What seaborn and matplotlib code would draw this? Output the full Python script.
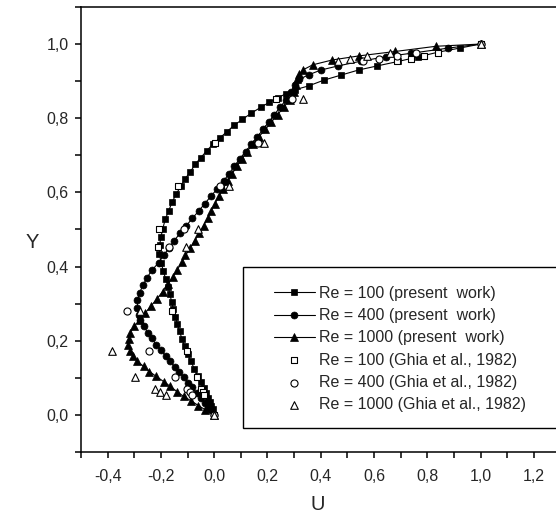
import matplotlib
matplotlib.use("Agg")
import matplotlib.pyplot as plt
import seaborn as sns
from matplotlib.ticker import MultipleLocator, FuncFormatter
from matplotlib.patches import Rectangle

# present work, Re = 100 (u, y along the vertical centre line)
re100_y = [0.0, 0.015, 0.024, 0.034, 0.045, 0.058, 0.072, 0.088, 0.105, 0.125, 0.145, 0.165, 0.185,
           0.205, 0.225, 0.245, 0.265, 0.285, 0.305, 0.325, 0.345, 0.366, 0.388, 0.41, 0.435, 0.457,
           0.48, 0.502, 0.527, 0.55, 0.574, 0.595, 0.617, 0.637, 0.655, 0.676, 0.694, 0.712, 0.730,
           0.746, 0.764, 0.781, 0.797, 0.814, 0.829, 0.843, 0.855, 0.866, 0.877, 0.887, 0.903, 0.916,
           0.930, 0.941, 0.953, 0.965, 0.978, 0.989, 1.0]
re100_u = [0.0, -0.006, -0.011, -0.017, -0.024, -0.031, -0.040, -0.050, -0.062, -0.075, -0.088, -0.100,
           -0.111, -0.121, -0.130, -0.138, -0.146, -0.153, -0.160, -0.166, -0.173, -0.182, -0.191,
           -0.199, -0.206, -0.205, -0.200, -0.193, -0.184, -0.171, -0.158, -0.143, -0.125, -0.109,
           -0.090, -0.071, -0.050, -0.028, -0.005, 0.020, 0.048, 0.075, 0.106, 0.140, 0.174, 0.207,
           0.240, 0.268, 0.304, 0.354, 0.413, 0.475, 0.542, 0.612, 0.690, 0.764, 0.840, 0.921, 1.0]

# present work, Re = 400
re400_y = [0.0, 0.012, 0.021, 0.032, 0.045, 0.059, 0.074, 0.087, 0.102, 0.115, 0.129, 0.144, 0.158,
           0.174, 0.189, 0.207, 0.222, 0.239, 0.255, 0.270, 0.288, 0.309, 0.329, 0.349, 0.369, 0.39,
           0.41, 0.43, 0.45, 0.47, 0.49, 0.51, 0.53, 0.55, 0.57, 0.59, 0.61, 0.63, 0.65, 0.67, 0.69,
           0.71, 0.73, 0.75, 0.77, 0.79, 0.81, 0.83, 0.85, 0.87, 0.89, 0.905, 0.917, 0.930, 0.941,
           0.954, 0.966, 0.975, 0.989, 1.0]
re400_u = [0.0, -0.011, -0.021, -0.034, -0.049, -0.065, -0.084, -0.099, -0.115, -0.131, -0.148, -0.165,
           -0.181, -0.199, -0.218, -0.234, -0.249, -0.265, -0.278, -0.284, -0.288, -0.288, -0.280,
           -0.268, -0.253, -0.234, -0.209, -0.190, -0.170, -0.150, -0.128, -0.105, -0.082, -0.058,
           -0.035, -0.012, 0.012, 0.035, 0.055, 0.075, 0.095, 0.118, 0.140, 0.162, 0.184, 0.205,
           0.226, 0.248, 0.270, 0.290, 0.302, 0.320, 0.354, 0.401, 0.465, 0.552, 0.646, 0.738,
           0.878, 1.0]

# present work, Re = 1000
re1000_y = [0.0, 0.014, 0.025, 0.038, 0.050, 0.063, 0.077, 0.090, 0.104, 0.117, 0.131, 0.144, 0.158,
            0.171, 0.189, 0.205, 0.222, 0.239, 0.257, 0.275, 0.293, 0.313, 0.332, 0.352, 0.372, 0.392,
            0.412, 0.43, 0.45, 0.47, 0.49, 0.51, 0.53, 0.55, 0.57, 0.59, 0.61, 0.63, 0.65, 0.67, 0.69,
            0.71, 0.73, 0.75, 0.77, 0.79, 0.81, 0.83, 0.85, 0.87, 0.89, 0.905, 0.918, 0.931, 0.944,
            0.957, 0.968, 0.980, 0.994, 1.0]
re1000_u = [0.0, -0.034, -0.059, -0.087, -0.115, -0.140, -0.165, -0.190, -0.218, -0.243, -0.265, -0.288,
            -0.303, -0.315, -0.324, -0.321, -0.315, -0.300, -0.280, -0.259, -0.238, -0.215, -0.194,
            -0.175, -0.155, -0.138, -0.121, -0.108, -0.090, -0.073, -0.056, -0.040, -0.025, -0.012,
            0.003, 0.018, 0.033, 0.050, 0.067, 0.085, 0.103, 0.123, 0.145, 0.168, 0.192, 0.215, 0.238,
            0.262, 0.283, 0.298, 0.306, 0.312, 0.320, 0.335, 0.370, 0.443, 0.543, 0.680, 0.833, 1.0]

# Ghia et al. (1982)
ghia_y = [1.0, 0.9766, 0.9688, 0.9609, 0.9531, 0.8516, 0.7344, 0.6172, 0.5, 0.4531, 0.2813,
          0.1719, 0.1016, 0.0703, 0.0625, 0.0547, 0.0]
ghia100_u = [1.0, 0.84123, 0.78871, 0.73722, 0.68717, 0.23151, 0.00332, -0.13641, -0.20581,
             -0.2109, -0.15662, -0.1015, -0.06434, -0.04775, -0.04192, -0.03717, 0.0]
ghia400_u = [1.0, 0.75837, 0.68439, 0.61756, 0.55892, 0.29093, 0.16256, 0.02135, -0.11477,
             -0.17119, -0.32726, -0.24299, -0.14612, -0.10338, -0.09266, -0.08186, 0.0]
ghia1000_u = [1.0, 0.65928, 0.57492, 0.51117, 0.46604, 0.33304, 0.18719, 0.05702, -0.0608,
              -0.10648, -0.27805, -0.38289, -0.2973, -0.2222, -0.20196, -0.18109, 0.0]

sns.set_style("white")
plt.rcParams['font.family'] = ['Liberation Sans', 'DejaVu Sans']

fig = plt.figure(figsize=(5.56, 5.23), dpi=100)
ax = fig.add_axes([0.1457, 0.1358, 0.8624, 0.8509])

present = [(re100_u, re100_y, 's', 4.5, "Re = 100 (present  work)"),
           (re400_u, re400_y, 'o', 5, "Re = 400 (present  work)"),
           (re1000_u, re1000_y, '^', 5.5, "Re = 1000 (present  work)")]
for u, y, m, ms, lab in present:
    sns.lineplot(x=u, y=y, sort=False, estimator=None, ax=ax, color='black', linewidth=0.8,
                 marker=m, markersize=ms, markeredgecolor='black', markeredgewidth=0.5, label=lab)

ghia = [(ghia100_u, 's', 22, "Re = 100 (Ghia et al., 1982)"),
        (ghia400_u, 'o', 26, "Re = 400 (Ghia et al., 1982)"),
        (ghia1000_u, '^', 30, "Re = 1000 (Ghia et al., 1982)")]
for u, m, s, lab in ghia:
    sns.scatterplot(x=u, y=ghia_y, ax=ax, marker=m, s=s, facecolor='white', edgecolor='black',
                    linewidth=0.8, label=lab, zorder=5)

ax.set_xlim(-0.5, 1.3)
ax.set_ylim(-0.1, 1.1)
ax.xaxis.set_major_locator(MultipleLocator(0.2))
ax.xaxis.set_minor_locator(MultipleLocator(0.1))
ax.yaxis.set_major_locator(MultipleLocator(0.2))
ax.yaxis.set_minor_locator(MultipleLocator(0.1))


def comma(v, pos):
    if abs(v) < 1e-9:
        v = 0.0
    return f"{v:.1f}".replace(".", ",")


ax.xaxis.set_major_formatter(FuncFormatter(comma))
ax.yaxis.set_major_formatter(FuncFormatter(comma))
ax.tick_params(which='both', direction='out', length=4, width=1.1, color='black',
               bottom=True, left=True, top=False, right=False)
ax.tick_params(which='major', labelsize=11.5)
ax.tick_params(axis='x', which='major', pad=8)
ax.tick_params(axis='y', which='major', pad=5)
for sp in ax.spines.values():
    sp.set_linewidth(1.1)
    sp.set_color('black')

ax.set_xlabel("U", fontsize=14.5, va='center')
ax.set_ylabel("Y", fontsize=14.5, rotation=0, ha='center', va='center')
ax.xaxis.set_label_coords(0.494, -0.119)
ax.yaxis.set_label_coords(-0.102, 0.47)

# legend box (drawn in the axes so the legend can sit above it)
ax.add_patch(Rectangle((243 / 556, 1 - 428 / 523), 0.6, (428 - 267) / 523,
                       transform=fig.transFigure, facecolor='white', edgecolor='black',
                       linewidth=1.0, zorder=10, clip_on=False))
leg = ax.legend(loc='upper left', bbox_to_anchor=(274 / 556, 1 - 286 / 523),
                bbox_transform=fig.transFigure, frameon=False, fontsize=11.5, borderpad=0,
                handlelength=2.56, handletextpad=0.25, labelspacing=0.45, borderaxespad=0)
leg.set_zorder(11)

fig.savefig("out.png", dpi=100)
